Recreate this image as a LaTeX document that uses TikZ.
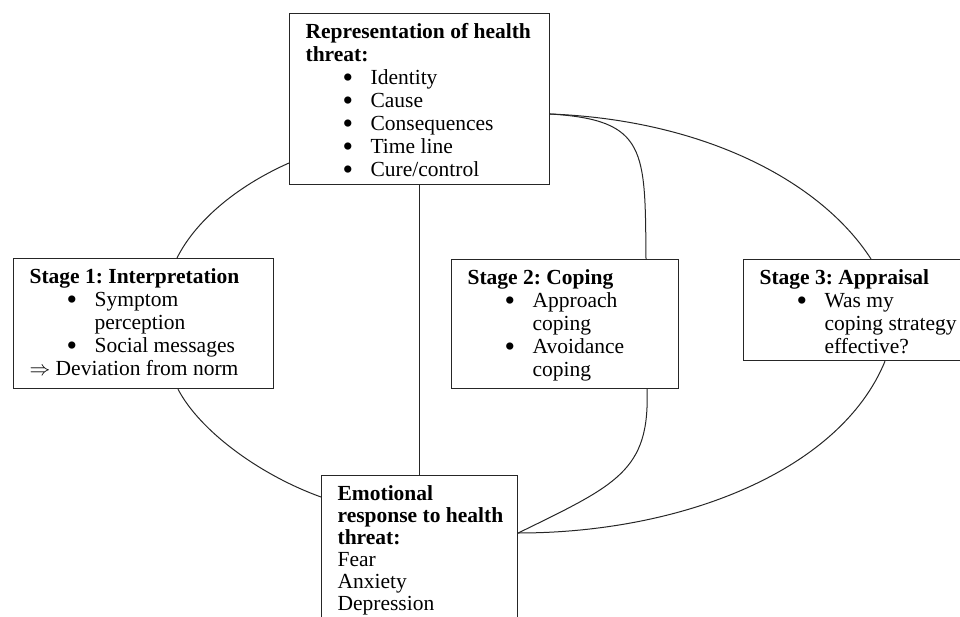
\documentclass[tikz,border=0pt]{standalone}
\usepackage{fontspec}
\usepackage{graphicx}
\setmainfont{Liberation Serif}
\usetikzlibrary{calc}

\newcommand{\boxtext}[4][23]{\parbox[t][#3][t]{#2}{\raggedright\frenchspacing\leftskip=16pt\parindent=0pt\fontsize{21.5}{#1}\selectfont #4}}
\newcommand{\hd}[1]{\rule{0pt}{25pt}\textbf{#1}}
\newcommand{\bitem}[1]{\par\hangindent=65pt\hangafter=1\noindent\hspace*{37pt}\makebox[28pt][l]{\smash{\raisebox{-3pt}{\scalebox{1.4}{\textbullet}}}}#1}

\tikzset{
    box/.style={draw=black!85, line width=1.2pt, inner sep=0pt, anchor=north west},
    link/.style={draw=black!85, line width=1pt}
}

\begin{document}
\begin{tikzpicture}[x=1pt, y=-1pt]
    \useasboundingbox (0,0) rectangle (960,617);
    \clip (0,0) rectangle (960,617);

    \node[box] (rep) at (289,13) {\boxtext{260pt}{171pt}{%
        \hd{Representation of health\\ threat:}
        \bitem{Identity}
        \bitem{Cause}
        \bitem{Consequences}
        \bitem{Time line}
        \bitem{Cure/control}}};
    \node[box] (interp) at (13,258) {\boxtext{260pt}{130pt}{%
        \hd{Stage 1: Interpretation}
        \bitem{Symptom\newline perception}
        \bitem{Social messages}
        \par$\Rightarrow$ Deviation from norm}};
    \node[box] (coping) at (451,259) {\boxtext{227pt}{129pt}{%
        \hd{Stage 2: Coping}
        \bitem{Approach\newline coping}
        \bitem{Avoidance\newline coping}}};
    \node[box] (apprais) at (743,259) {\boxtext{240pt}{101pt}{%
        \hd{Stage 3: Appraisal}
        \bitem{Was my\newline coping strategy\newline effective?}}};
    \node[box] (emotion) at (321,475) {\boxtext[22]{196pt}{160pt}{%
        \hd{Emotional\\ response to health\\ threat:}
        \par Fear
        \par Anxiety
        \par Depression}};

    \draw[link] (rep.south) -- (rep.south |- emotion.north);
    \draw[link] ($(coping.north east)+(0,43)$) -- ($(coping.north east)+(0,43)$ -| apprais.west);
    \draw[link] ($(rep.north west)+(0,150)$) .. controls +(-54,24) and +(18,-36) .. ($(interp.north west)+(164,0)$);
    \draw[link] ($(interp.south west)+(165,0)$) .. controls +(22,42) and +(-61,-22) .. ($(emotion.north west)+(0,22)$);
    \draw[link] ($(rep.north east)+(0,101)$) .. controls +(97,6) and +(-1,-109) .. ($(coping.north west)+(195,0)$);
    \draw[link] ($(rep.north east)+(0,101)$) .. controls +(152,6) and +(-51,-79) .. ($(apprais.north west)+(128,0)$);
    \draw[link] ($(coping.south west)+(196,0)$) .. controls +(3,82) and +(98,-48) .. ($(emotion.north east)+(0,58)$);
    \draw[link] ($(apprais.south west)+(142,0)$) .. controls +(-45,110) and +(163,0) .. ($(emotion.north east)+(0,58)$);
\end{tikzpicture}
\end{document}
